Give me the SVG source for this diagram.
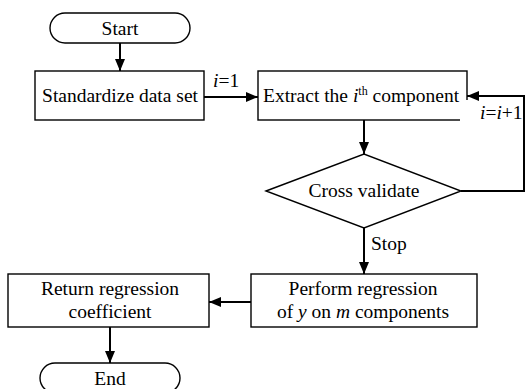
<svg xmlns="http://www.w3.org/2000/svg" width="526" height="389" viewBox="0 0 526 389">
<defs>
<marker id="ah" markerWidth="12" markerHeight="10" refX="12" refY="5" orient="auto" markerUnits="userSpaceOnUse">
<path d="M0,0 L12,5 L0,10 Z" fill="#000"/>
</marker>
</defs>
<style>
.box{fill:#fff;stroke:#000;stroke-width:1.4}
text{font-family:'Liberation Serif','DejaVu Serif','Times New Roman',serif;font-size:19.5px;fill:#000}
.c{text-anchor:middle}
.ln{fill:none;stroke:#000;stroke-width:2}
</style>
<rect width="526" height="389" fill="#fff"/>
<g id="start">
<rect class="box" x="50" y="13" width="140" height="30" rx="15" ry="15"/>
<text class="c" x="120" y="35">Start</text>
</g>
<g id="standardize">
<rect class="box" x="35" y="71" width="169" height="49"/>
<text class="c" x="120" y="102">Standardize data set</text>
</g>
<g id="extract">
<rect class="box" x="258" y="71" width="209" height="49"/>
<text x="263" y="102">Extract the <tspan font-style="italic">i</tspan><tspan font-size="12" dy="-7">th</tspan><tspan dy="7"> component</tspan></text>
</g>
<g id="cross">
<polygon class="box" points="266,191 364,154 461,191 364,228"/>
<text class="c" x="364" y="197">Cross validate</text>
</g>
<g id="perform">
<rect class="box" x="251" y="274" width="226" height="53"/>
<text class="c" x="363" y="295">Perform regression</text>
<text class="c" x="363" y="318">of <tspan font-style="italic">y</tspan> on <tspan font-style="italic">m</tspan> components</text>
</g>
<g id="return">
<rect class="box" x="8" y="274" width="201" height="53"/>
<text class="c" x="110" y="295">Return regression</text>
<text class="c" x="110" y="318">coefficient</text>
</g>
<g id="end">
<rect class="box" x="40" y="363" width="140" height="30" rx="15" ry="15"/>
<text class="c" x="110" y="385">End</text>
</g>
<g id="connectors">
<line class="ln" x1="120" y1="43" x2="120" y2="71" marker-end="url(#ah)"/>
<line class="ln" x1="204" y1="97" x2="258" y2="97" marker-end="url(#ah)"/>
<text x="213" y="87"><tspan font-style="italic">i</tspan>=1</text>
<line class="ln" x1="364" y1="120" x2="364" y2="154" marker-end="url(#ah)"/>
<rect x="460" y="100" width="64" height="24" fill="#fff"/>
<polyline class="ln" points="461,191 524,191 524,96 467,96" marker-end="url(#ah)"/>
<text x="480" y="119"><tspan font-style="italic">i</tspan>=<tspan font-style="italic">i</tspan>+1</text>
<line class="ln" x1="364" y1="228" x2="364" y2="274" marker-end="url(#ah)"/>
<text x="371" y="250">Stop</text>
<line class="ln" x1="251" y1="302" x2="209" y2="302" marker-end="url(#ah)"/>
<line class="ln" x1="110" y1="327" x2="110" y2="363" marker-end="url(#ah)"/>
</g>
</svg>
